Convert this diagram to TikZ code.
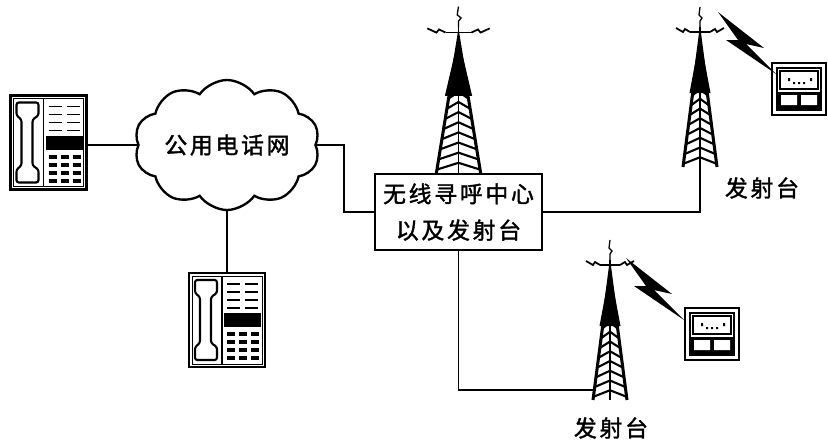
\documentclass[tikz,border=0pt]{standalone}
\usepackage{fontspec}
\usetikzlibrary{shapes.symbols, calc}
\newfontfamily\cjk{Noto Sans CJK SC}[LetterSpace=12, FakeBold=1.6]
\tikzstyle{wire} = [line width=1.4pt]
\tikzstyle{centrebox} = [rectangle, 
minimum width=5cm, 
minimum height=2.28cm, 
text centered, 
align=center, 
line width=1.8pt, 
draw=black, 
font=\cjk\fontsize{19.5}{31}\selectfont]
\tikzstyle{net} = [cloud, 
cloud puffs=10, 
cloud puff arc=110, 
cloud ignores aspect, 
minimum width=5.25cm, 
minimum height=3.9cm, 
line width=2pt, 
draw=black, 
font=\cjk\fontsize{19.5}{22}\selectfont]
\tikzstyle{tag} = [font=\cjk\fontsize{19.5}{22}\selectfont, inner sep=0pt]
\tikzset{
	phone/.pic={
		\node[inner sep=0pt, minimum width=2.31cm, minimum height=2.85cm] (-box) {};
		\draw[line width=2.2pt, fill=white] (-38,-47) rectangle (38,47);
		\draw[line width=0.8pt] (-35,-44) rectangle (35,44);
		\draw[line width=1.8pt, rounded corners=2pt] (-32,-40) -- (-10,-40) -- (-10,-27) -- (-16,-23) -- (-16,23) -- (-10,27) -- (-10,40) -- (-32,40) -- (-32,27) -- (-27,23) -- (-27,-23) -- (-32,-27) -- cycle;
		\draw[line width=1.2pt] (-5,-44) -- (-5,44);
		\foreach \y in {-36,-28,-20,-12}
			\draw[line width=1.6pt] (0,\y) -- (13,\y) (18,\y) -- (31,\y);
		\fill (-3,-7) rectangle (34,7);
		\foreach \y in {12,20,28,36}
			\foreach \x in {0,12,24}
				\fill (\x,\y) rectangle ++(8,4);
	},
	tower/.pic={
		\coordinate (-base) at (0,0);
		\coordinate (-foot) at (-15.5,-10);
		\fill (0,-130) -- (10.5,-74) -- (-10.5,-74) -- cycle;
		\draw[line width=2.6pt] (-17,0) -- (0,-130) -- (17,0);
		\draw[line width=1.5pt] (0,-140) -- (0,0);
		\foreach \t in {0.4,0.475,0.55,0.625,0.7,0.775,0.85,0.925}
			\draw[line width=1.8pt] ($(0,-130)!\t+0.05!(-17,0)$) -- ($(0,-130)!\t!(0,0)$) -- ($(0,-130)!\t+0.05!(17,0)$);
		% cross bar, aerial and radiators
		\draw[line width=1.6pt] (-10,-135) -- (10,-135);
		\draw[line width=1.1pt] (0,-140) -- (0,-146) -- (2,-149) -- (-1,-152) -- (0,-160);
		\draw[line width=1.5pt] (-10,-135) -- (-15,-138) -- (-17,-135) -- (-24,-139);
		\draw[line width=1.5pt] (10,-135) -- (15,-138) -- (17,-135) -- (24,-139);
	},
	pager/.pic={
		\draw[line width=2pt, fill=white] (-27,-26) rectangle (27,26);
		\draw[line width=1.4pt] (-22,-21) rectangle (22,21);
		\draw[line width=1.4pt] (-19,-18) rectangle (19,0);
		\fill (-22,3) rectangle (22,21);
		\fill[white] (-18,6) rectangle (-2,16) (2,6) rectangle (18,16);
		\fill (-11,-11) rectangle ++(2,3) (-6,-7) rectangle ++(2,2) (-1,-7) rectangle ++(2,2) (4,-7) rectangle ++(2,2) (11,-11) rectangle ++(2,3);
	},
	bolt/.pic={
		\fill (0,0) -- (46,36) -- (28,32) -- (58,62) -- (8,28) -- (20,28) -- cycle;
	}
}
\begin{document}
\begin{tikzpicture}[x=0.03cm, y=-0.03cm]
	\useasboundingbox (0,0) rectangle (828,442);
	
	\node (pstn) [net] at (227,145) {公用电话网};
	\pic (tel1) at (48.5,142.5) {phone};
	\pic (tel2) at (227,320) {phone};
	
	\node (centre) [centrebox] at (458.5,212) {无线寻呼中心\\以及发射台};
	
	\pic[xscale=1.3, yscale=1.04] (tx0) at (centre.north) {tower};
	\pic (tx1) at (700,167) {tower};
	\pic (tx2) at (610,400) {tower};
	
	\pic (pg1) at (799,89) {pager};
	\pic (pg2) at (712,334) {pager};
	\pic at (718,12) {bolt};
	\pic at (626,258) {bolt};
	
	\node (lbl1) [tag] at (762,188) {发射台};
	\node (lbl2) [tag] at (611,428) {发射台};
	
	\draw [wire] (tel1-box.east |- pstn.west) -- (pstn.west);
	\draw [wire] (pstn.south) -- (tel2-box.north);
	\draw [wire] (pstn.east) -- ++(27,0) |- (centre.west);
	\draw [wire] (centre.east) -| (tx1-base);
	\draw [wire] (centre.south) |- (tx2-foot);
	
\end{tikzpicture}
\end{document}
